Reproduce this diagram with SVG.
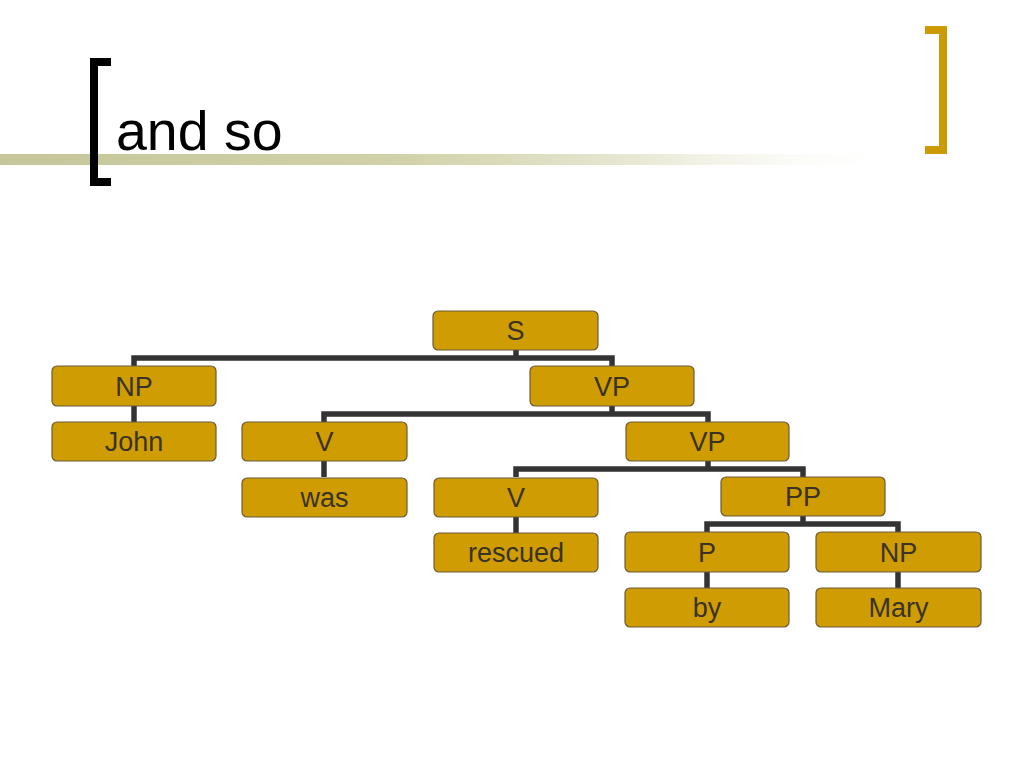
<svg xmlns="http://www.w3.org/2000/svg" width="1024" height="768" viewBox="0 0 1024 768">
<defs>
<linearGradient id="rule" x1="0" y1="0" x2="1" y2="0">
<stop offset="0" stop-color="#c6c69a"/>
<stop offset="0.45" stop-color="#d2d2aa"/>
<stop offset="0.7" stop-color="#e8e8d4"/>
<stop offset="1" stop-color="#ffffff" stop-opacity="0"/>
</linearGradient>
<style>
.node rect{fill:#cf9c02;stroke:#6a5a3c;stroke-width:1.2}
.node text{font-family:"Liberation Sans",Arial,sans-serif;font-size:27px;fill:#3a3226;text-anchor:middle}
#connectors path{fill:none;stroke:#333333;stroke-width:5.5;stroke-linejoin:miter;stroke-linecap:butt}
</style>
</defs>
<rect width="1024" height="768" fill="#ffffff"/>
<rect x="0" y="154" width="910" height="11" fill="url(#rule)"/>
<path d="M111,58 H90 V186 H111 V178 H98 V66 H111 Z" fill="#000000"/>
<path d="M925,26 H947 V154 H925 V146 H939 V34 H925 Z" fill="#cc9a06"/>
<text x="116" y="150" font-family="Liberation Sans,Arial,sans-serif" font-size="55.5" fill="#000000">and so</text>
<g id="connectors">
<path d="M516,350 V358 M134,366 V358 H612 V366"/>
<path d="M612,406 V414 M324,422 V414 H708 V422"/>
<path d="M708,461 V469 M516,477 V469 H803 V477"/>
<path d="M803,516 V524 M707,532 V524 H898 V532"/>
<path d="M134,406 V422"/>
<path d="M324,461 V477"/>
<path d="M516,517 V533"/>
<path d="M707,572 V588"/>
<path d="M898,572 V588"/>
</g>
<g id="node-S" class="node"><rect x="433" y="311" width="165" height="39" rx="5"/><text x="515.5" y="340">S</text></g>
<g id="node-NP1" class="node"><rect x="52" y="366" width="164" height="40" rx="5"/><text x="134" y="396">NP</text></g>
<g id="node-VP1" class="node"><rect x="530" y="366" width="164" height="40" rx="5"/><text x="612" y="396">VP</text></g>
<g id="node-John" class="node"><rect x="52" y="422" width="164" height="39" rx="5"/><text x="134" y="451">John</text></g>
<g id="node-V1" class="node"><rect x="242" y="422" width="165" height="39" rx="5"/><text x="324.5" y="451">V</text></g>
<g id="node-VP2" class="node"><rect x="626" y="422" width="163" height="39" rx="5"/><text x="707.5" y="451">VP</text></g>
<g id="node-was" class="node"><rect x="242" y="478" width="165" height="39" rx="5"/><text x="324.5" y="507">was</text></g>
<g id="node-V2" class="node"><rect x="434" y="478" width="164" height="39" rx="5"/><text x="516" y="507">V</text></g>
<g id="node-PP" class="node"><rect x="721" y="477" width="164" height="39" rx="5"/><text x="803" y="506">PP</text></g>
<g id="node-rescued" class="node"><rect x="434" y="533" width="164" height="39" rx="5"/><text x="516" y="562">rescued</text></g>
<g id="node-P" class="node"><rect x="625" y="532" width="164" height="40" rx="5"/><text x="707" y="562">P</text></g>
<g id="node-NP2" class="node"><rect x="816" y="532" width="165" height="40" rx="5"/><text x="898.5" y="562">NP</text></g>
<g id="node-by" class="node"><rect x="625" y="588" width="164" height="39" rx="5"/><text x="707" y="617">by</text></g>
<g id="node-Mary" class="node"><rect x="816" y="588" width="165" height="39" rx="5"/><text x="898.5" y="617">Mary</text></g>
</svg>
